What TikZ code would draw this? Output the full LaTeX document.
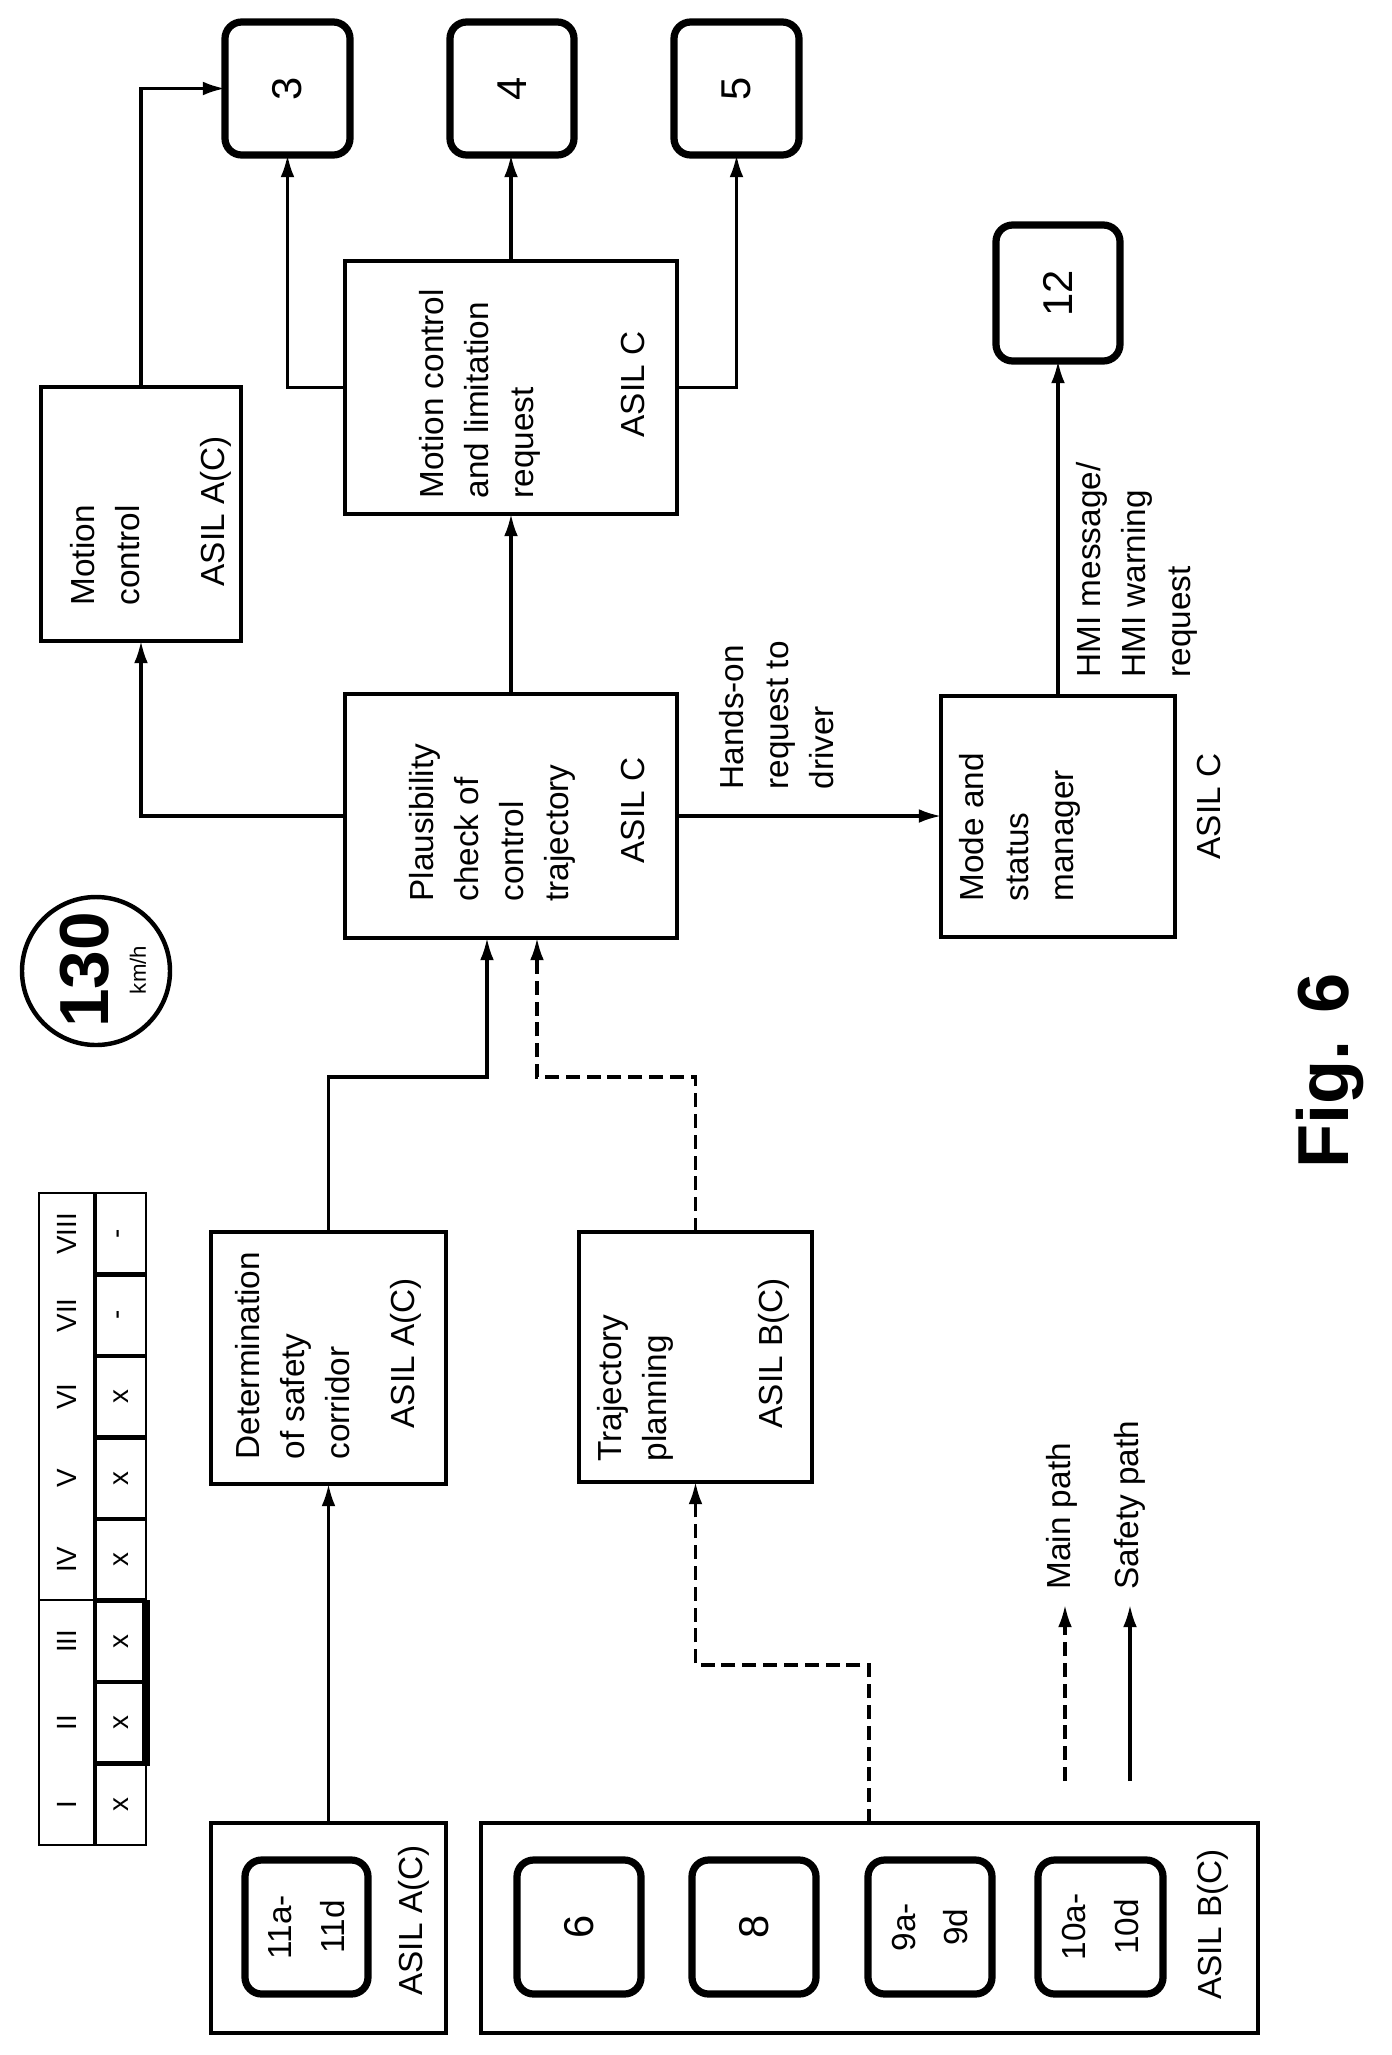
\documentclass[tikz,border=0pt]{standalone}
\usepackage{fontspec}
\setmainfont{Liberation Sans}
\usetikzlibrary{arrows.meta}
\begin{document}
\begin{tikzpicture}[x=0.36pt,y=-0.36pt,
  box/.style={draw,line width=1.3pt,inner sep=0,outer sep=0},
  rbox/.style={draw,line width=2.6pt,rounded corners=6pt,inner sep=0,outer sep=0},
  arr/.style={line width=1.1pt,-{Latex[length=8pt,width=5pt]}},
  dsh/.style={arr,dash pattern=on 5pt off 2.5pt},
  txt/.style={rotate=90,anchor=base west,align=left,inner sep=0,font=\fontsize{12}{16.2}\selectfont},
  ctxt/.style={rotate=90,align=center,inner sep=0,font=\fontsize{12}{19}\selectfont},
  ntxt/.style={rotate=90,inner sep=0,font=\fontsize{15}{15}\selectfont},
  tbl/.style={rotate=90,inner sep=0,font=\fontsize{10}{12}\selectfont}]
\useasboundingbox (0,0) rectangle (1392,2055);
\newcommand\bx[6]{\node[#6,minimum width={(#4-#2)*0.36pt},minimum height={(#5-#3)*0.36pt}] (#1) at ({(#2+#4)/2},{(#3+#5)/2}) {};}
% boxes
\bx{b3}{225}{22}{350}{155}{rbox}
\bx{b4}{450}{22}{574}{155}{rbox}
\bx{b5}{674}{22}{799}{155}{rbox}
\bx{b12}{996}{225}{1120}{361}{rbox}
\bx{mc}{41}{387}{241}{641}{box}
\bx{mcl}{345}{261}{677}{514}{box}
\bx{pl}{345}{694}{677}{938}{box}
\bx{ms}{941}{696}{1175}{937}{box}
\bx{det}{211}{1232}{446}{1484}{box}
\bx{trj}{579}{1232}{812}{1482}{box}
\bx{top}{211}{1823}{446}{2033}{box}
\bx{bot}{481}{1823}{1258}{2033}{box}
\bx{r11}{245}{1860}{368}{1994}{rbox}
\bx{r6}{517}{1860}{641}{1994}{rbox}
\bx{r8}{692}{1860}{816}{1994}{rbox}
\bx{r9}{868}{1860}{992}{1994}{rbox}
\bx{r10}{1038}{1860}{1163}{1994}{rbox}
% box numbers
\node[ntxt] (t3) at (b3) {3};
\node[ntxt] (t4) at (b4) {4};
\node[ntxt] (t5) at (b5) {5};
\node[ntxt] (t12) at (b12) {12};
\node[ctxt] (t11) at (r11) {11a-\\11d};
\node[ntxt] (t6) at (r6) {6};
\node[ntxt] (t8) at (r8) {8};
\node[ctxt] (t9) at (r9) {9a-\\9d};
\node[ctxt] (t10) at (r10) {10a-\\10d};
% box texts (anchor = baseline of last line)
\node[txt] (mct) at (139,606) {Motion\\control};
\node[txt] (mca) at (224,587) {ASIL A(C)};
\node[txt] (mclt) at (533,499) {Motion control\\and limitation\\request};
\node[txt] (mcla) at (644,438) {ASIL C};
\node[txt] (plt) at (568,902) {Plausibility\\check of\\control\\trajectory};
\node[txt] (pla) at (644,864) {ASIL C};
\node[txt] (mst) at (1073,902) {Mode and\\status\\manager};
\node[txt] (msa) at (1220,860) {ASIL C};
\node[txt] (dett) at (349,1460) {Determination\\of safety\\corridor};
\node[txt] (deta) at (414,1429) {ASIL A(C)};
\node[txt] (trjt) at (666,1462) {Trajectory\\planning};
\node[txt] (trja) at (782,1429) {ASIL B(C)};
\node[txt] (topa) at (422,1996) {ASIL A(C)};
\node[txt] (bota) at (1221,2000) {ASIL B(C)};
\node[txt] (hands) at (833,790) {Hands-on\\request to\\driver};
\node[txt] (hmi) at (1190,678) {HMI message/\\HMI warning\\request};
% connectors
\draw[arr] (mc.north) |- (b3.west);
\draw[arr] (mcl.west) -| (b3.south);
\draw[arr] (mcl.north) -- (mcl.north |- b4.south);
\draw[arr] (mcl.east) -| (b5.south);
\draw[arr] (pl.north) -- (pl.north |- mcl.south);
\draw[arr] (pl.west) -| (mc.south);
\draw[arr] (pl.east) -- (pl.east -| ms.west);
\draw[arr] (ms.north) -- (ms.north |- b12.south);
\coordinate (j1) at (487,1077);
\coordinate (j2) at (537,1077);
\coordinate (j3) at (869,1665);
\draw[arr] (det.north) |- (j1) -- (j1 |- pl.south);
\draw[dsh] (trj.north) |- (j2) -- (j2 |- pl.south);
\draw[arr] (top.north) -- (top.north |- det.south);
\draw[dsh] (j3 |- bot.north) -- (j3) -| (trj.south);
% legend
\coordinate (lm1) at (1065,1781);
\coordinate (lm2) at (1065,1605);
\coordinate (ls1) at (1130,1781);
\coordinate (ls2) at (1130,1605);
\draw[dsh] (lm1) -- (lm2);
\draw[arr] (ls1) -- (ls2);
\node[txt] (lmt) at (1070,1590) {Main path};
\node[txt] (lst) at (1138,1590) {Safety path};
% speed sign
\node[draw,circle,line width=1.6pt,minimum size={148*0.36pt},inner sep=0] (sign) at (96,971) {};
\node[rotate=90,inner sep=0,font=\bfseries\fontsize{25}{25}\selectfont] (s130) at (85,970) {130};
\node[rotate=90,inner sep=0,font=\fontsize{8}{8}\selectfont] (kmh) at (138,970) {km/h};
% figure label
\node[rotate=90,inner sep=0,font=\bfseries\fontsize{26}{26}\selectfont] (fig) at (1330,1071) {Fig. 6};
% table
\draw[line width=1pt] (39,1193) rectangle (146,1845);
\draw[line width=1.6pt] (95,1193) -- (95,1845);
\draw[line width=0.8pt] (39,1600) -- (95,1600);
\foreach \i in {1,...,7}{\draw[line width=1.6pt] (95,{1193+81.5*\i}) -- (146,{1193+81.5*\i});}
\draw[line width=2.6pt] (146,1600) -- (146,1766);
\foreach \t/\v [count=\i from 0] in {VIII/-,VII/-,VI/x,V/x,IV/x,III/x,II/x,I/x}{
  \node[tbl] (h\i) at (67,{1193+81.5*(\i+0.5)}) {\t};
  \node[tbl] (v\i) at (121,{1193+81.5*(\i+0.5)}) {\v};
}
\end{tikzpicture}
\end{document}
